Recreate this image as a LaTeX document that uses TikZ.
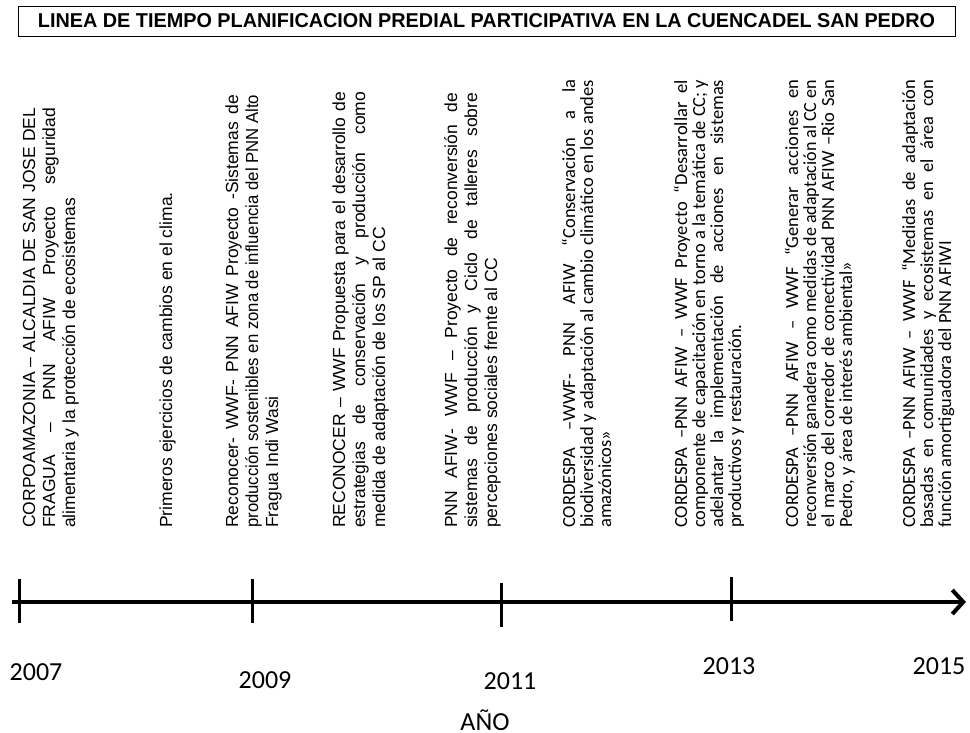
\documentclass[tikz,border=0pt]{standalone}
\usepackage{graphicx}
\usepackage{fontspec}
\setmainfont{Liberation Sans}
\newfontfamily\calibri{Carlito}
\usetikzlibrary{arrows.meta,positioning}

\newlength{\colw}
\newsavebox{\jlbox}
% justified line: stretched to the column, squeezed if too long
\newcommand{\jl}[1]{\sbox{\jlbox}{#1}%
    \ifdim\wd\jlbox>\colw\resizebox{\colw}{\ht\jlbox}{\usebox{\jlbox}}\else\makebox[\colw][s]{#1}\fi}
\newcommand{\evbox}[2]{\setlength{\colw}{#1}\parbox[t]{\colw}{#2}}

\begin{document}
\begin{tikzpicture}[x=1pt, y=-1pt,
    evarial/.style={rotate=90, anchor=base west, inner sep=0pt, font={\fontsize{17.5}{20}\selectfont}},
    evcal/.style={rotate=90, anchor=base west, inner sep=0pt, font={\calibri\fontsize{18.5}{18}\selectfont}},
    year/.style={inner sep=0pt, font={\calibri\fontsize{26}{30}\selectfont}},
    tick/.style={line width=3pt}]

    \useasboundingbox (0,0) rectangle (970,732);

    % titulo
    \node[draw, line width=0.8pt, minimum width=937pt, minimum height=30pt, inner sep=0pt] (titulo) at (486.5,21)
        {\resizebox{897pt}{14pt}{\bfseries LINEA DE TIEMPO PLANIFICACION PREDIAL PARTICIPATIVA EN LA CUENCADEL SAN PEDRO}};

    % eventos
    \node[evarial] (ev1) at (35,528) {\evbox{420pt}{%
        \jl{CORPOAMAZONIA – ALCALDIA DE SAN JOSE DEL}\\
        \jl{FRAGUA – PNN AFIW Proyecto seguridad}\\
        alimentaria y la protección de ecosistemas}};
    \node[evarial] (ev2) at (172,528) {Primeros ejercicios de cambios en el clima.};
    \node[evarial] (ev3) at (238,528) {\evbox{433pt}{%
        \jl{Reconocer- WWF- PNN AFIW Proyecto -Sistemas de}\\
        \jl{producción sostenibles en zona de influencia del PNN Alto}\\
        Fragua Indi Wasi}};
    \node[evarial] (ev4) at (345,528) {\evbox{436pt}{%
        \jl{RECONOCER – WWF Propuesta para el desarrollo de}\\
        \jl{estrategias de conservación y producción como}\\
        medida de adaptación de los SP al CC}};
    \node[evarial] (ev5) at (457,528) {\evbox{435pt}{%
        \jl{PNN AFIW- WWF – Proyecto de reconversión de}\\
        \jl{sistemas de producción y Ciclo de talleres sobre}\\
        percepciones sociales frente al CC}};
    \node[evcal] (ev6) at (575,528) {\evbox{448pt}{%
        \jl{CORDESPA –WWF- PNN AFIW “Conservación a la}\\
        \jl{biodiversidad y adaptación al cambio climático en los andes}\\
        amazónicos»}};
    \node[evcal] (ev7) at (687,528) {\evbox{448pt}{%
        \jl{CORDESPA –PNN AFIW – WWF Proyecto “Desarrollar el}\\
        \jl{componente de capacitación en torno a la temática de CC; y}\\
        \jl{adelantar la implementación de acciones en sistemas}\\
        productivos y restauración.}};
    \node[evcal] (ev8) at (798,528) {\evbox{448pt}{%
        \jl{CORDESPA –PNN AFIW – WWF “Generar acciones en}\\
        \jl{reconversión ganadera como medidas de adaptación al CC en}\\
        \jl{el marco del corredor de conectividad PNN AFIW –Rio San}\\
        Pedro, y área de interés ambiental»}};
    \node[evcal] (ev9) at (915,528) {\evbox{448pt}{%
        \jl{CORDESPA –PNN AFIW – WWF “Medidas de adaptación}\\
        \jl{basadas en comunidades y ecosistemas en el área con}\\
        función amortiguadora del PNN AFIWI}};

    % eje
    \coordinate (axstart) at (12,602);
    \coordinate (axend)   at (966,602);
    \draw[line width=4pt, -{Straight Barb[length=11pt, width=24pt]}] (axstart) -- (axend);

    \coordinate (t2007) at (19,601);
    \coordinate (t2009) at (252,601);
    \coordinate (t2011) at (501,605);
    \coordinate (t2013) at (731,599);
    \draw[tick] ([yshift=22pt]t2007) -- ([yshift=-22pt]t2007);
    \draw[tick] ([yshift=22pt]t2009) -- ([yshift=-22pt]t2009);
    \draw[tick] ([yshift=22pt]t2011) -- ([yshift=-22pt]t2011);
    \draw[tick] ([yshift=22pt]t2013) -- ([yshift=-22pt]t2013);

    \node[year] (y2007) at (36,672)  {2007};
    \node[year] (y2009) at (265,680) {2009};
    \node[year] (y2011) at (510,681) {2011};
    \node[year] (y2013) at (729,666) {2013};
    \node[year] (y2015) at (939,666) {2015};
    \node[year] (anio)  at (485,720) {AÑO};

\end{tikzpicture}
\end{document}
